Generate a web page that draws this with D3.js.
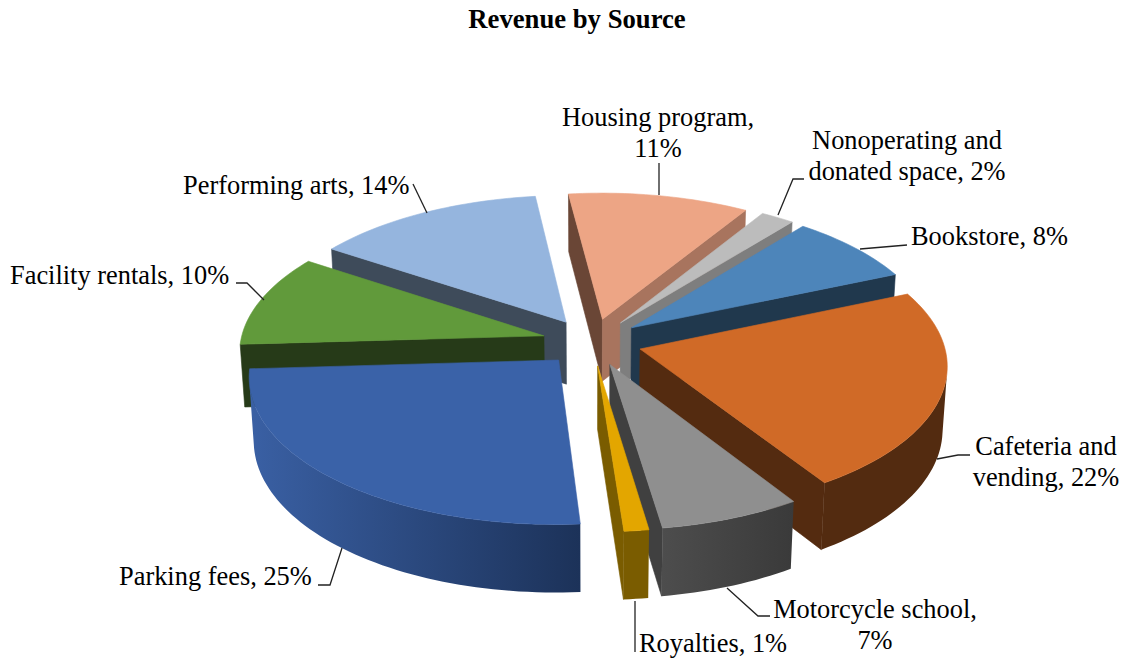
<!DOCTYPE html>
<html>
<head>
<meta charset="utf-8">
<script src="https://cdn.jsdelivr.net/npm/d3@7"></script>
<style>
  body { margin: 0; background: #fff; }
  svg { display: block; }
  text { font-family: "Liberation Serif", serif; font-size: 26.4px; fill: #000; }
  .title { font-size: 26.7px; font-weight: bold; }
  .leader { fill: none; stroke: #222; stroke-width: 1.3; }
</style>
</head>
<body>
<svg id="chart" width="1124" height="658"></svg>
<script>
const categories = ['Housing program', 'Nonoperating and donated space', 'Bookstore', 'Cafeteria and vending', 'Motorcycle school', 'Royalties', 'Parking fees', 'Facility rentals', 'Performing arts'];
const shares = [10.72, 2, 7.78, 22.4, 6.7, 1.17, 25.25, 10.28, 13.72];

// top face, wall at start angle, wall at end angle, outer wall left -> right
const topColors = ['#eda585', '#bcbcbc', '#4d85ba', '#d06a27', '#8f8f8f', '#e3a600', '#3a62a8', '#619a3b', '#95b5de'];
const startWalls = ['#6a4636', '#7e7e7e', '#20384d', '#542b10', '#404040', '#665000', '#1e3560', '#263a18', '#3e4b5a'];
const endWalls = ['#a8745e', '#7e7e7e', '#20384d', '#542b10', '#404040', '#7a5c00', '#335796', '#263a18', '#3e4b5a'];
const outerLeft = ['#a8745e', '#7e7e7e', '#20384d', '#532b10', '#4d4d4d', '#7a5c00', '#3a60a4', '#263a18', '#3e4b5a'];
const outerRight = ['#a8745e', '#7e7e7e', '#20384d', '#532b10', '#3a3a3a', '#7a5c00', '#1c3259', '#263a18', '#3e4b5a'];

const labels = [
  {lines: ['Housing program,', '11%'], x: 658, y: 126, anchor: 'middle', leader: [[659, 163], [659, 195]]},
  {lines: ['Nonoperating and', 'donated space, 2%'], x: 907, y: 149, anchor: 'middle', leader: [[804, 179], [793, 179], [778, 215]]},
  {lines: ['Bookstore, 8%'], x: 911, y: 245, anchor: 'start', leader: [[907, 245], [860, 249]]},
  {lines: ['Cafeteria and', 'vending, 22%'], x: 1046, y: 455, anchor: 'middle', leader: [[970, 455], [958, 455], [937, 459]]},
  {lines: ['Motorcycle school,', '7%'], x: 875, y: 618, anchor: 'middle', leader: [[770, 616], [758, 616], [727, 588]]},
  {lines: ['Royalties, 1%'], x: 639, y: 652, anchor: 'start', leader: [[635, 601], [635, 652]]},
  {lines: ['Parking fees, 25%'], x: 119, y: 585, anchor: 'start', leader: [[318, 585], [330, 585], [342, 548]]},
  {lines: ['Facility rentals, 10%'], x: 10, y: 284, anchor: 'start', leader: [[236, 283], [247, 283], [264, 300]]},
  {lines: ['Performing arts, 14%'], x: 183, y: 194, anchor: 'start', leader: [[413, 184], [427, 213]]}
];

// 3D pie set up
const cx = 592, cy = 342, radius = 303.5, depth = 72, explode = 50;
const tilt = Math.asin(0.473), camera = 2600;
const rad = d => d * Math.PI / 180;

function project(X, Y, Z) {
  const w = camera + Y * Math.cos(tilt) - Z * Math.sin(tilt);
  const s = camera / w;
  return [cx + X * s, cy - (Y * Math.sin(tilt) + Z * Math.cos(tilt)) * s];
}

const pie = d3.pie().sort(null).value(d => d).startAngle(rad(-7)).endAngle(rad(353));
const polygon = d3.line();
const svg = d3.select('#chart');
const defs = svg.append('defs');

const slices = pie(shares).map((d, i) => {
  const mid = (d.startAngle + d.endAngle) / 2;
  return {
    i: i,
    a0: d.startAngle,
    a1: d.endAngle,
    mid: mid,
    ox: explode * Math.sin(mid),
    oy: explode * Math.cos(mid)
  };
});

// back slices first
slices.sort((a, b) => Math.cos(b.mid) - Math.cos(a.mid));

const g = svg.append('g');

slices.forEach(s => {
  const i = s.i;
  const rim = a => [s.ox + radius * Math.sin(a), s.oy + radius * Math.cos(a)];
  const steps = Math.max(4, Math.ceil((s.a1 - s.a0) / rad(1.5)));
  const angles = d3.range(steps + 1).map(k => s.a0 + (s.a1 - s.a0) * k / steps);

  const topPt = p => project(p[0], p[1], 0);
  const botPt = p => project(p[0], p[1], -depth);
  const apex = [s.ox, s.oy];

  const face = (pts, color) => {
    // signed area tells if the face looks at the camera
    if (d3.polygonArea(pts) <= 0) return;
    g.append('path')
      .attr('d', polygon(pts) + 'Z')
      .attr('fill', color)
      .attr('stroke', color)
      .attr('stroke-width', 0.6);
  };

  const p0 = rim(s.a0), p1 = rim(s.a1);
  face([topPt(p0), botPt(p0), botPt(apex), topPt(apex)], startWalls[i]);
  face([topPt(apex), botPt(apex), botPt(p1), topPt(p1)], endWalls[i]);

  // outer wall, one path for the part that looks at the camera
  const visible = d3.pairs(angles).filter(([a, b]) => {
    const ra = rim(a), rb = rim(b);
    return d3.polygonArea([topPt(rb), botPt(rb), botPt(ra), topPt(ra)]) > 0;
  });
  if (visible.length) {
    const arc = [visible[0][0]].concat(visible.map(v => v[1]));
    const upper = arc.map(a => topPt(rim(a)));
    const lower = arc.map(a => botPt(rim(a))).reverse();
    const id = 'wall' + i;
    const gx = d3.extent(upper.concat(lower), d => d[0]);
    const grad = defs.append('linearGradient')
      .attr('id', id)
      .attr('gradientUnits', 'userSpaceOnUse')
      .attr('x1', gx[0]).attr('x2', gx[1])
      .attr('y1', 0).attr('y2', 0);
    grad.append('stop').attr('offset', 0).attr('stop-color', outerLeft[i]);
    grad.append('stop').attr('offset', 1).attr('stop-color', outerRight[i]);
    g.append('path')
      .attr('d', polygon(upper.concat(lower)) + 'Z')
      .attr('fill', `url(#${id})`);
  }

  const outline = [topPt(apex)].concat(angles.map(a => topPt(rim(a))));
  g.append('path')
    .attr('d', polygon(outline) + 'Z')
    .attr('fill', topColors[i])
    .attr('stroke', topColors[i])
    .attr('stroke-width', 0.6);
});

// Labels and their leader lines
const label = svg.selectAll('.label').data(labels).enter().append('g').attr('class', 'label');

label.append('path')
  .attr('class', 'leader')
  .attr('d', d => polygon(d.leader));

label.each(function(d) {
  d3.select(this).selectAll('text').data(d.lines).enter().append('text')
    .attr('x', d.x)
    .attr('y', (t, j) => d.y + j * 31)
    .attr('text-anchor', d.anchor)
    .text(t => t);
});

svg.append('text')
  .attr('class', 'title')
  .attr('x', 577)
  .attr('y', 28)
  .attr('text-anchor', 'middle')
  .text('Revenue by Source');
</script>
</body>
</html>
